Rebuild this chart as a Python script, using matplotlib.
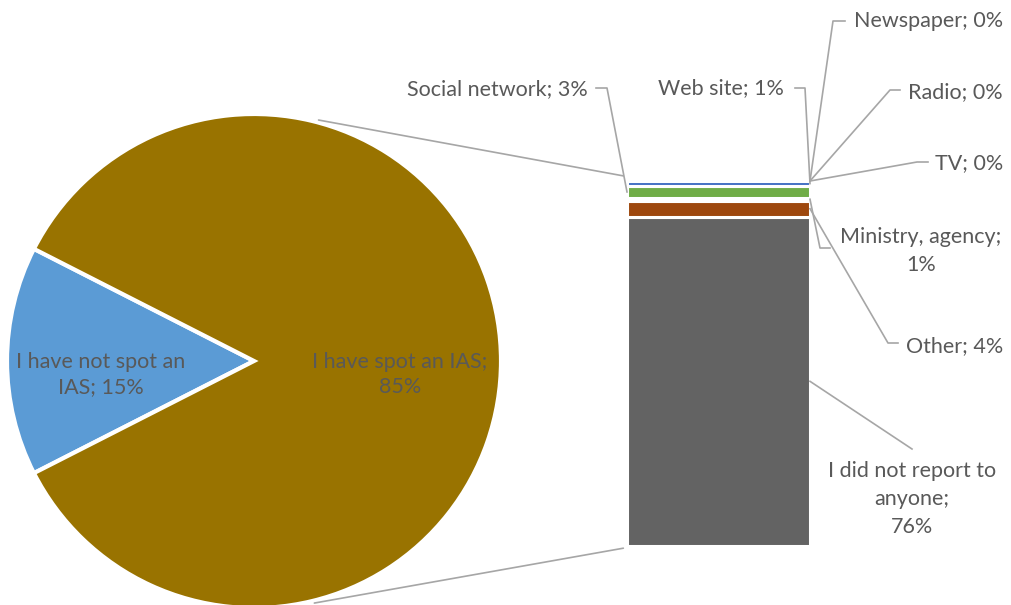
import matplotlib.pyplot as plt
from matplotlib.patches import ConnectionPatch
import numpy as np

# %% data
pie_labels = ["I have not spot an\nIAS; 15%", "I have spot an IAS;\n85%"]
pie_values = [15, 85]
pie_colors = ["#5B9BD5", "#997300"]

# bar of pie, bottom -> top
bar_names = ["I did not report to\nanyone;\n76%", "Other; 4%", "Ministry, agency;\n1%",
             "Social network; 3%", "Web site; 1%", "TV; 0%", "Radio; 0%", "Newspaper; 0%"]
bar_values = [76.7, 3.7, 0.7, 2.7, 1.2, 0.0, 0.0, 0.0]
bar_colors = ["#636363", "#9E480E", "#255E91", "#70AD47", "#4472C4", "#FFC000", "#A5A5A5", "#ED7D31"]

txt = "#595959"
lead = "#A6A6A6"
fs = 15.5
plt.rcParams["font.family"] = ["Lato", "DejaVu Sans"]
W, H = 1012, 605

fig = plt.figure(figsize=(W / 100, H / 100), dpi=100)

# %% pie
cx, cy, r = 254, 361, 247
ax_pie = fig.add_axes([(cx - r) / W, (H - cy - r) / H, 2 * r / W, 2 * r / H])
ax_pie.pie(pie_values, colors=pie_colors, startangle=180 - 15 * 1.8, counterclock=True,
           radius=1, wedgeprops=dict(edgecolor="white", linewidth=3))
ax_pie.set_xlim(-1, 1)
ax_pie.set_ylim(-1, 1)
ax_pie.axis("off")
ax_pie.text(-0.62, -0.055, pie_labels[0], color=txt, fontsize=fs, ha="center", va="center", linespacing=1.3)
ax_pie.text(0.59, -0.055, pie_labels[1], color=txt, fontsize=fs, ha="center", va="center", linespacing=1.3)

# %% stacked bar
bx0, bx1, by0, by1 = 627, 810, 181, 546
ax_bar = fig.add_axes([bx0 / W, (H - by1) / H, (bx1 - bx0) / W, (by1 - by0) / H])
total = sum(bar_values)
bottom = 0
mids = []
for v, c in zip(bar_values, bar_colors):
    if v > 0:
        ax_bar.bar(0.5, v, width=1, bottom=bottom, color=c, edgecolor="white", linewidth=2.2)
    mids.append(bottom + v / 2)
    bottom += v
ax_bar.set_xlim(0, 1)
ax_bar.set_ylim(0, total)
ax_bar.axis("off")

# connector lines pie -> bar
for ang, yb in [(75, 1.014), (-76, -0.006)]:
    a = np.radians(ang)
    con = ConnectionPatch(xyA=(1.01 * np.cos(a), 1.01 * np.sin(a)), coordsA=ax_pie.transData,
                          xyB=(-0.02, yb), coordsB=ax_bar.transAxes, color=lead, linewidth=1.2)
    fig.add_artist(con)

# %% labels with leader lines (overlay in pixels)
ov = fig.add_axes([0, 0, 1, 1], zorder=5)
ov.set_xlim(0, W)
ov.set_ylim(H, 0)
ov.axis("off")
ov.patch.set_alpha(0)


def bar_pt(side, val):
    disp = ax_bar.transData.transform((side, val))
    return ov.transData.inverted().transform(disp)


# (text x, text y, ha, knee points), same order as bar_names
label_pos = [
    (912, 499, "center", [(912, 449)]),
    (1003, 346, "right", [(898, 343), (888, 343)]),
    (921, 251, "center", [(830, 248), (820, 248)]),
    (588, 89, "right", [(596, 88), (607, 88)]),
    (784, 88, "right", [(795, 88), (805, 88)]),
    (1003, 163, "right", [(928, 162), (917, 162)]),
    (1003, 92, "right", [(900, 90), (890, 90)]),
    (1003, 21, "right", [(845, 21), (833, 21)]),
]
sides = [1, 1, 1, 0, 1, 1, 1, 1]
for name, (tx, ty, ha, knees), side, m in zip(bar_names, label_pos, sides, mids):
    ov.text(tx, ty, name, color=txt, fontsize=fs, ha=ha, va="center", linespacing=1.5)
    px, py = bar_pt(side, m)
    xs = [k[0] for k in knees] + [px]
    ys = [k[1] for k in knees] + [py]
    ov.plot(xs, ys, color=lead, linewidth=1.2)

fig.savefig("out.png", dpi=100, facecolor="white")
